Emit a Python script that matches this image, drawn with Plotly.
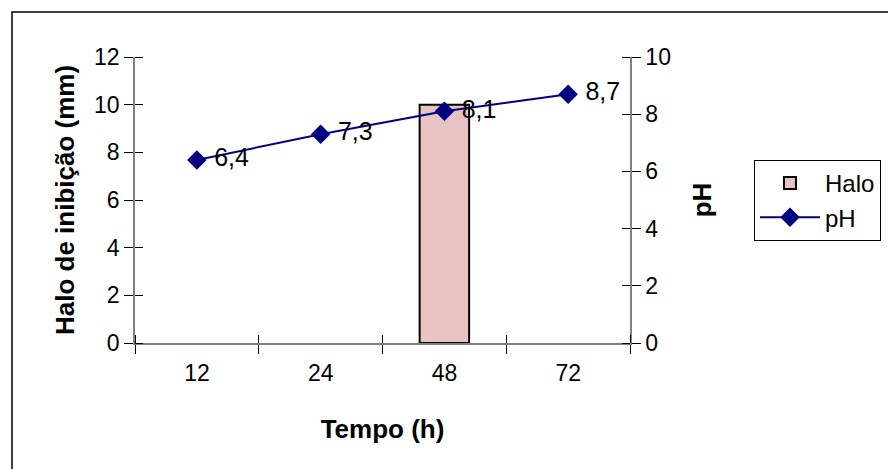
import plotly.graph_objects as go

tempo = ["12", "24", "48", "72"]
halo = [None, None, 10, None]
ph = [6.4, 7.3, 8.1, 8.7]

pos = list(range(len(tempo)))
bounds = [p - 0.5 for p in pos] + [pos[-1] + 0.5]
eps = 1e-4

fig = go.Figure()
fig.add_trace(go.Bar(
    x=pos, y=halo, name="Halo", width=0.4,
    marker=dict(color="#E8C3C3", line=dict(color="black", width=2)),
    yaxis="y"
))
fig.add_trace(go.Scatter(
    x=pos, y=ph, name="pH", mode="lines+markers+text",
    line=dict(color="#000080", width=2),
    marker=dict(symbol="diamond", size=15, color="#000080"),
    text=ph, texttemplate=" %{y:.1f}", textposition="middle right",
    textfont=dict(size=25, color="black"),
    yaxis="y2", cliponaxis=False
))

axis_line = dict(showline=True, linecolor="#808080", linewidth=1.5,
                 showgrid=False, zeroline=False, tickcolor="black",
                 tickfont=dict(size=23, color="black"))

# page body has an 8px margin, so the figure is shifted by that amount
fig.update_layout(
    width=888, height=461,
    margin=dict(l=127, r=266, t=49, b=126),
    paper_bgcolor="white", plot_bgcolor="white",
    font=dict(family="Liberation Sans, Arial, sans-serif", size=23, color="black"),
    separators=",.",
    xaxis=dict(
        range=[bounds[0], bounds[-1]],
        tickmode="array", tickvals=bounds, ticktext=tempo + [""],
        ticks="outside", ticklen=9, tickwidth=1, ticklabelshift=62,
        minor=dict(tickmode="array", tickvals=[b + eps for b in bounds],
                   ticks="inside", ticklen=8, tickcolor="black"),
        title=dict(text="<b>Tempo (h)</b>", standoff=34, font=dict(size=26)),
        **axis_line
    ),
    yaxis=dict(
        range=[0, 12], dtick=2, ticks="outside", ticklen=9,
        minor=dict(tickmode="array", tickvals=[v + eps for v in range(0, 13, 2)],
                   ticks="inside", ticklen=8, tickcolor="black"),
        title=dict(text="<b>Halo de inibição (mm)</b>", standoff=12, font=dict(size=26)),
        **axis_line
    ),
    yaxis2=dict(
        range=[0, 10], dtick=2, overlaying="y", side="right",
        ticks="outside", ticklen=9,
        minor=dict(tickmode="array", tickvals=[v + eps for v in range(0, 11, 2)],
                   ticks="inside", ticklen=8, tickcolor="black"),
        title=dict(text="<b>pH</b>", standoff=23, font=dict(size=26)),
        **axis_line
    ),
    legend=dict(
        x=1.2505, y=0.64, xanchor="left", yanchor="top",
        bordercolor="black", borderwidth=1, bgcolor="white",
        font=dict(size=24), tracegroupgap=0, itemwidth=60
    ),
    showlegend=True,
)

fig.add_shape(type="rect", xref="paper", yref="paper",
              x0=-0.2485, x1=1.55, y0=-0.5, y1=1.157,
              line=dict(color="black", width=1.5), fillcolor="rgba(0,0,0,0)",
              layer="below")

fig.write_html("out.html")
